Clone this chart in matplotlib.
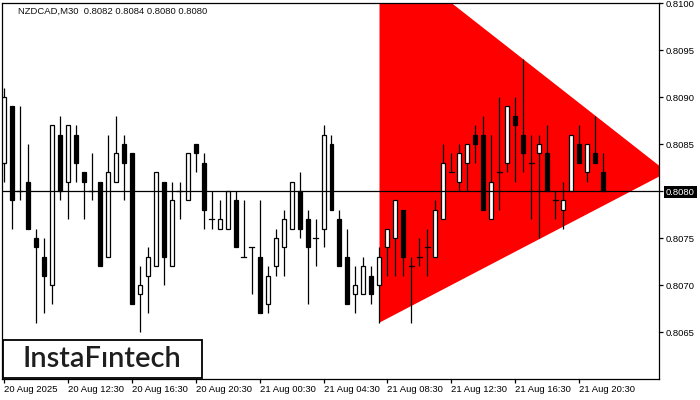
import matplotlib
matplotlib.use('Agg')
import matplotlib.pyplot as plt
from matplotlib.patches import Rectangle, Polygon

# NZDCAD M30, 76 bars, 20 Aug 08:30 .. 21 Aug 22:00
opens = [0.8083, 0.8089, 0.8080, 0.8081, 0.8075, 0.8073, 0.8070, 0.8086, 0.8081, 0.8086,
         0.8082, 0.8080, 0.8081, 0.8073, 0.8081, 0.8085, 0.8084, 0.8069, 0.8071, 0.8072,
         0.8081, 0.8072, 0.8080, 0.8079, 0.8085, 0.8083, 0.8077, 0.8076, 0.8076, 0.8079,
         0.8073, 0.8074, 0.8073, 0.8068, 0.8072, 0.8074, 0.8076, 0.8080, 0.8077, 0.8075,
         0.8076, 0.8085, 0.8077, 0.8073, 0.8069, 0.8069, 0.8071, 0.8070, 0.8074, 0.8075,
         0.8078, 0.8072, 0.8073, 0.8074, 0.8073, 0.8077, 0.8082, 0.8081, 0.8083, 0.8086,
         0.8086, 0.8077, 0.8082, 0.8083, 0.8088, 0.8086, 0.8083, 0.8084, 0.8084, 0.8079,
         0.8078, 0.8080, 0.8085, 0.8082, 0.8084, 0.8082]
highs = [0.8091, 0.8089, 0.8089, 0.8085, 0.8076, 0.8075, 0.8087, 0.8088, 0.8087, 0.8087,
         0.8082, 0.8084, 0.8081, 0.8086, 0.8088, 0.8086, 0.8084, 0.8072, 0.8074, 0.8082,
         0.8081, 0.8081, 0.8081, 0.8084, 0.8085, 0.8084, 0.8080, 0.8079, 0.8080, 0.8080,
         0.8079, 0.8074, 0.8079, 0.8072, 0.8076, 0.8078, 0.8081, 0.8082, 0.8078, 0.8077,
         0.8087, 0.8086, 0.8078, 0.8076, 0.8072, 0.8073, 0.8072, 0.8074, 0.8076, 0.8079,
         0.8078, 0.8073, 0.8075, 0.8076, 0.8079, 0.8085, 0.8084, 0.8085, 0.8085, 0.8087,
         0.8088, 0.8086, 0.8090, 0.8089, 0.8090, 0.8094, 0.8086, 0.8086, 0.8087, 0.8080,
         0.8081, 0.8086, 0.8087, 0.8085, 0.8088, 0.8084]
lows = [0.8081, 0.8076, 0.8079, 0.8076, 0.8066, 0.8067, 0.8068, 0.8079, 0.8077, 0.8081,
        0.8077, 0.8079, 0.8072, 0.8073, 0.8081, 0.8079, 0.8068, 0.8065, 0.8067, 0.8072,
        0.8070, 0.8072, 0.8077, 0.8079, 0.8082, 0.8076, 0.8076, 0.8076, 0.8076, 0.8074,
        0.8073, 0.8069, 0.8067, 0.8067, 0.8071, 0.8071, 0.8076, 0.8075, 0.8068, 0.8072,
        0.8074, 0.8078, 0.8072, 0.8068, 0.8067, 0.8069, 0.8068, 0.8066, 0.8071, 0.8071,
        0.8071, 0.8066, 0.8072, 0.8071, 0.8073, 0.8077, 0.8082, 0.8080, 0.8080, 0.8083,
        0.8078, 0.8077, 0.8078, 0.8082, 0.8081, 0.8082, 0.8077, 0.8075, 0.8080, 0.8077,
        0.8076, 0.8080, 0.8083, 0.8081, 0.8083, 0.8080]
closes = [0.8090, 0.8079, 0.8080, 0.8076, 0.8074, 0.8071, 0.8087, 0.8080, 0.8087, 0.8083,
          0.8081, 0.8080, 0.8072, 0.8082, 0.8084, 0.8083, 0.8068, 0.8070, 0.8073, 0.8082,
          0.8073, 0.8079, 0.8080, 0.8084, 0.8084, 0.8078, 0.8077, 0.8077, 0.8080, 0.8074,
          0.8073, 0.8074, 0.8067, 0.8071, 0.8075, 0.8077, 0.8081, 0.8076, 0.8074, 0.8075,
          0.8086, 0.8078, 0.8072, 0.8068, 0.8070, 0.8072, 0.8069, 0.8073, 0.8076, 0.8079,
          0.8073, 0.8072, 0.8073, 0.8074, 0.8078, 0.8083, 0.8082, 0.8084, 0.8085, 0.8085,
          0.8078, 0.8081, 0.8082, 0.8089, 0.8087, 0.8084, 0.8083, 0.8085, 0.8080, 0.8079,
          0.8079, 0.8086, 0.8083, 0.8085, 0.8083, 0.8080]

time_labels = ['20 Aug 2025', '20 Aug 12:30', '20 Aug 16:30', '20 Aug 20:30', '21 Aug 00:30',
               '21 Aug 04:30', '21 Aug 08:30', '21 Aug 12:30', '21 Aug 16:30', '21 Aug 20:30']
label_step = 8
price_ticks = [0.8065, 0.8070, 0.8075, 0.8080, 0.8085, 0.8090, 0.8095, 0.8100]
bid = 0.8080

# triangle pattern: left side at bar 47, apex at bar 83
tri_x = [47, 47, 83]
tri_y = [0.8106, 0.8066, 0.8082]

title = 'NZDCAD,M30  0.8082 0.8084 0.8080 0.8080'

plt.rcParams['font.family'] = ['Liberation Sans', 'DejaVu Sans']

fig = plt.figure(figsize=(7, 4), dpi=100)
ax = fig.add_axes([2 / 700, 21 / 400, 657 / 700, 376 / 400])
ax.set_xlim(-0.19, 81.94)
ax.set_ylim(0.8060, 0.8100)

ax.add_patch(Polygon(list(zip(tri_x, tri_y)), closed=True, facecolor='#ff0000',
                     edgecolor='none', zorder=1))

bw = 0.5
for i in range(len(opens)):
    o, h, l, c = opens[i], highs[i], lows[i], closes[i]
    ax.plot([i, i], [l, h], color='black', lw=0.9, zorder=3, solid_capstyle='butt')
    lo, hi = min(o, c), max(o, c)
    if hi - lo < 1e-9:
        ax.plot([i - bw / 2 - 0.05, i + bw / 2 + 0.05], [o, o], color='black', lw=0.9, zorder=4)
    else:
        face = 'white' if c > o else 'black'
        ax.add_patch(Rectangle((i - bw / 2, lo), bw, hi - lo, facecolor=face,
                               edgecolor='black', lw=0.9, zorder=4))

ax.axhline(bid, color='black', lw=0.9, zorder=5)

for s in ax.spines.values():
    s.set_linewidth(0.9)
    s.set_color('black')

ax.yaxis.tick_right()
ax.set_yticks(price_ticks)
ax.set_yticklabels(['%.4f' % p for p in price_ticks])
ax.tick_params(axis='y', length=3, width=0.9, pad=2, labelsize=6.8, colors='black')
for lab, p in zip(ax.get_yticklabels(), price_ticks):
    if abs(p - bid) < 1e-9:
        lab.set_color('white')
        lab.set_bbox(dict(facecolor='black', edgecolor='none', pad=1.2))

ax.set_xticks([i * label_step for i in range(len(time_labels))])
ax.set_xticklabels(time_labels)
ax.tick_params(axis='x', length=3, width=0.9, pad=1.5, labelsize=6.8, colors='black')
for lab in ax.get_xticklabels():
    lab.set_ha('left')

fig.text(18 / 700, 1 - 11 / 400, title, fontsize=6.8, color='#111111', va='center', ha='left')

# logo box
fig.add_artist(Rectangle((2.7 / 700, 21.7 / 400), 199 / 700, 38.3 / 400, transform=fig.transFigure,
                         facecolor='white', edgecolor='black', lw=1.3, zorder=10))
fig.text(102 / 700, 1 - 359 / 400, 'InstaF\u0131ntech', fontsize=21, color='#1e1e1e',
         family=['Lato', 'DejaVu Sans'], weight='semibold', ha='center', va='center', zorder=11)

fig.savefig('out.png', dpi=100)
